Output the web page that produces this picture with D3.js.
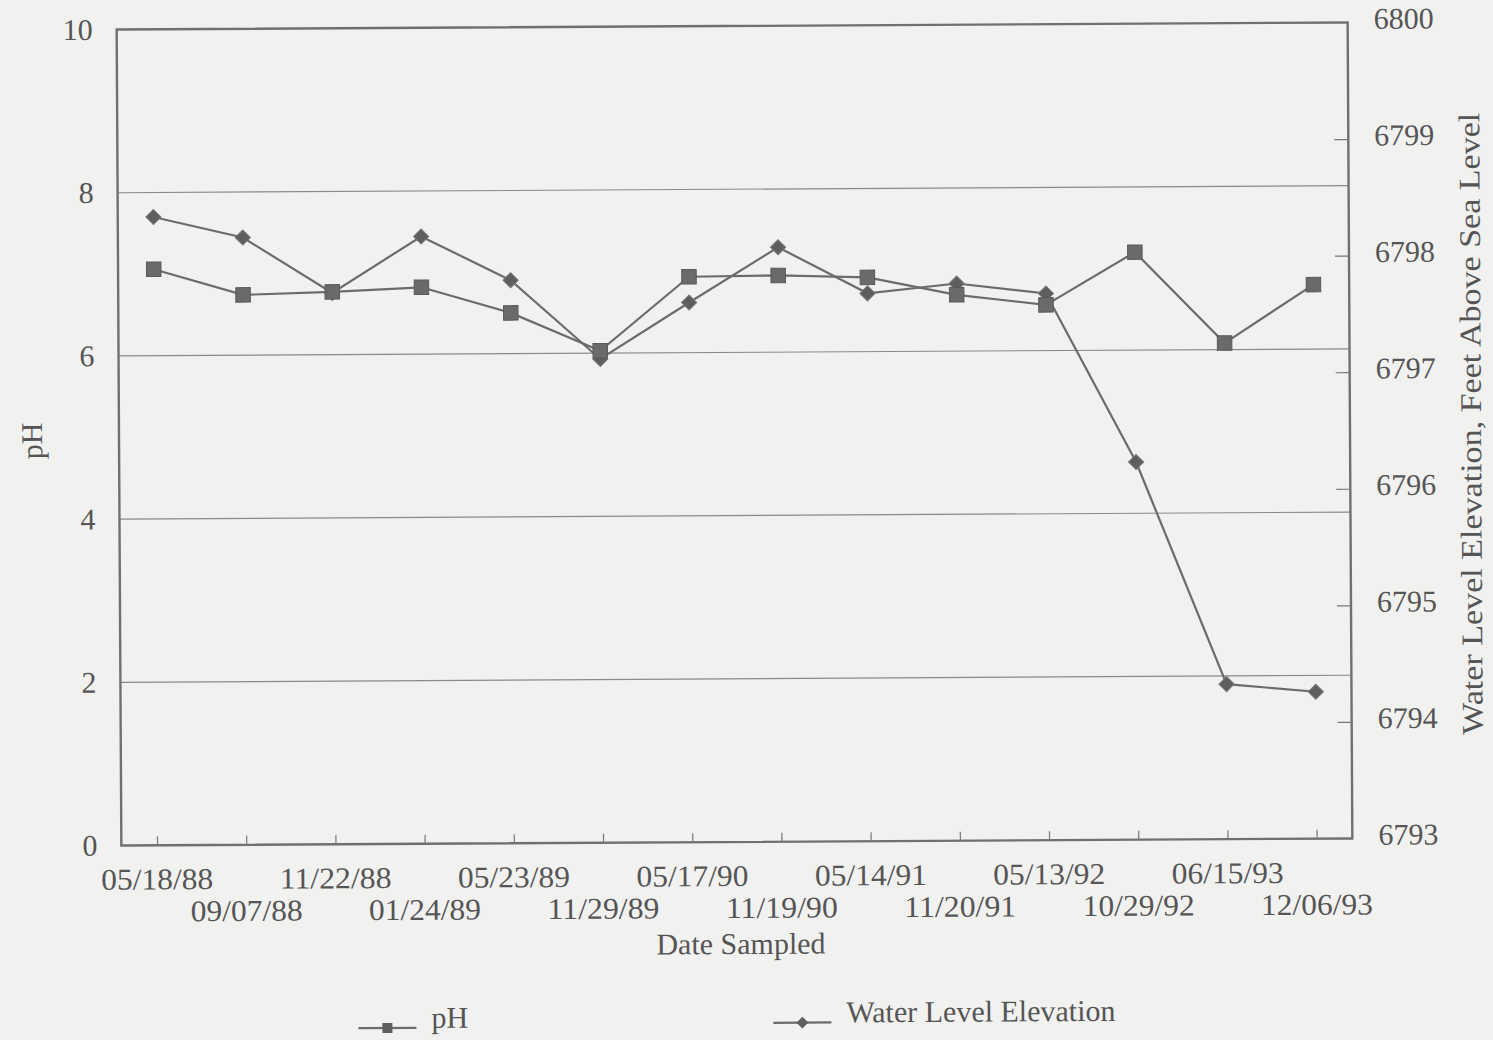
<!DOCTYPE html>
<html>
<head>
<meta charset="utf-8">
<script src="https://cdn.jsdelivr.net/npm/d3@7"></script>
<style>
  html, body { margin: 0; padding: 0; background: #f1f1f0; }
  svg { display: block; }
  text { font-family: "Liberation Serif", "DejaVu Serif", serif; fill: #555; }
</style>
</head>
<body>
<svg id="chart" width="1493" height="1040"></svg>
<script>
// Sampling dates (categories)
const dates = ["05/18/88", "09/07/88", "11/22/88", "01/24/89", "05/23/89", "11/29/89", "05/17/90",
               "11/19/90", "05/14/91", "11/20/91", "05/13/92", "10/29/92", "06/15/93", "12/06/93"];
// pH readings
const phValues = [7.06, 6.74, 6.77, 6.82, 6.50, 6.03, 6.93, 6.94, 6.91, 6.69, 6.56, 7.20, 6.08, 6.79];
// Water level elevation, feet above sea level
const elevValues = [6798.39, 6798.21, 6797.73, 6798.21, 6797.83, 6797.15, 6797.63,
                    6798.10, 6797.70, 6797.78, 6797.69, 6796.24, 6794.33, 6794.26];
// Axis ticks
const phTicks = [0, 2, 4, 6, 8, 10];
const elevTicks = [6793, 6794, 6795, 6796, 6797, 6798, 6799, 6800];
const gridTicks = [2, 4, 6, 8];
const seriesNames = ["pH", "Water Level Elevation"];

const svg = d3.select("#chart");
const ink = "#6b6b6b";
const m = { left: 119, right: 1350, top: 26, bottom: 842 };

// the printed page sits with a slight tilt
const g = svg.append("g").attr("transform", "rotate(-0.33, 734, 434)");

const x = d3.scalePoint().domain(dates).range([m.left, m.right]).padding(0.4);
const yPh = d3.scaleLinear().domain([0, 10]).range([m.bottom, m.top]);
const yEl = d3.scaleLinear().domain([6793, 6800]).range([m.bottom, m.top]);

// horizontal gridlines
g.append("g").selectAll("line").data(gridTicks).join("line")
  .attr("x1", m.left).attr("x2", m.right)
  .attr("y1", d => yPh(d)).attr("y2", d => yPh(d))
  .attr("stroke", "#8a8a8a").attr("stroke-width", 1.2);

// plot frame
g.append("rect")
  .attr("x", m.left).attr("y", m.top)
  .attr("width", m.right - m.left).attr("height", m.bottom - m.top)
  .attr("fill", "none").attr("stroke", "#707070").attr("stroke-width", 2.4);

// bottom axis: inward ticks, labels staggered on two rows
const xAxis = g.append("g").attr("transform", `translate(0,${m.bottom})`)
  .call(d3.axisBottom(x).tickSize(-9).tickFormat(""));
xAxis.select(".domain").remove();
xAxis.selectAll("line").attr("stroke", "#777").attr("stroke-width", 1.2);

g.append("g").selectAll("text").data(dates).join("text")
  .attr("x", d => x(d))
  .attr("y", (d, i) => i % 2 === 0 ? 886 : 918)
  .attr("text-anchor", "middle")
  .attr("font-size", 30)
  .attr("textLength", 112)
  .attr("lengthAdjust", "spacingAndGlyphs")
  .text(d => d);

// left axis labels
const yAxisL = g.append("g").attr("transform", `translate(${m.left},0)`)
  .call(d3.axisLeft(yPh).tickValues(phTicks).tickSize(0).tickPadding(24));
yAxisL.select(".domain").remove();
yAxisL.selectAll("text").attr("font-size", 30).attr("font-family", "Liberation Serif").attr("fill", "#555");

// right axis with inward ticks
const yAxisR = g.append("g").attr("transform", `translate(${m.right},0)`)
  .call(d3.axisRight(yEl).tickValues(elevTicks).tickSize(-14).tickPadding(26).tickFormat(d3.format("d")));
yAxisR.select(".domain").remove();
yAxisR.selectAll("line").attr("stroke", "#777").attr("stroke-width", 1.2)
  .filter(d => d === 6793 || d === 6800).remove();
yAxisR.selectAll("text").attr("font-size", 30).attr("font-family", "Liberation Serif").attr("fill", "#555")
  .attr("dy", "0.2em");

// axis titles
g.append("text").attr("x", 738).attr("y", 954).attr("text-anchor", "middle")
  .attr("font-size", 30).text("Date Sampled");
g.append("text").attr("transform", "translate(42,437) rotate(-90)").attr("text-anchor", "middle")
  .attr("font-size", 30).text("pH");
g.append("text").attr("transform", "translate(1481,428) rotate(-90)").attr("text-anchor", "middle")
  .attr("font-size", 30).attr("textLength", 622).attr("lengthAdjust", "spacingAndGlyphs")
  .text("Water Level Elevation, Feet Above Sea Level");

// series lines
const phLine = d3.line().x((d, i) => x(dates[i])).y(d => yPh(d));
const elLine = d3.line().x((d, i) => x(dates[i])).y(d => yEl(d));

g.append("path").datum(elevValues).attr("d", elLine)
  .attr("fill", "none").attr("stroke", ink).attr("stroke-width", 2.2);
g.append("path").datum(phValues).attr("d", phLine)
  .attr("fill", "none").attr("stroke", ink).attr("stroke-width", 2.2);

// markers: filled squares for pH, square-on-point diamonds for elevation
const square = d3.symbol().type(d3.symbolSquare).size(210);
const diamond = d3.symbol().type(d3.symbolSquare).size(115);

g.append("g").selectAll("path").data(elevValues).join("path")
  .attr("d", diamond)
  .attr("transform", (d, i) => `translate(${x(dates[i])},${yEl(d)}) rotate(45)`)
  .attr("fill", "#5e5e5e").attr("stroke", "#777").attr("stroke-width", 1);

g.append("g").selectAll("path").data(phValues).join("path")
  .attr("d", square)
  .attr("transform", (d, i) => `translate(${x(dates[i])},${yPh(d)})`)
  .attr("fill", "#6a6a6a").attr("stroke", "#5a5a5a").attr("stroke-width", 1);

// legend
const legend = g.append("g");
const legItems = [
  { name: seriesNames[0], x0: 355, rot: 0, size: 100, y: 1016 },
  { name: seriesNames[1], x0: 770, rot: 45, size: 70, y: 1013 }
];
legItems.forEach(it => {
  legend.append("line").attr("x1", it.x0).attr("x2", it.x0 + 58)
    .attr("y1", it.y + 10).attr("y2", it.y + 10)
    .attr("stroke", ink).attr("stroke-width", 2.2);
  legend.append("path")
    .attr("d", d3.symbol().type(d3.symbolSquare).size(it.size))
    .attr("transform", `translate(${it.x0 + 29},${it.y + 10}) rotate(${it.rot})`)
    .attr("fill", "#5e5e5e");
  legend.append("text").attr("x", it.x0 + 73).attr("y", it.y + 10)
    .attr("font-size", 30).text(it.name);
});
</script>
</body>
</html>
